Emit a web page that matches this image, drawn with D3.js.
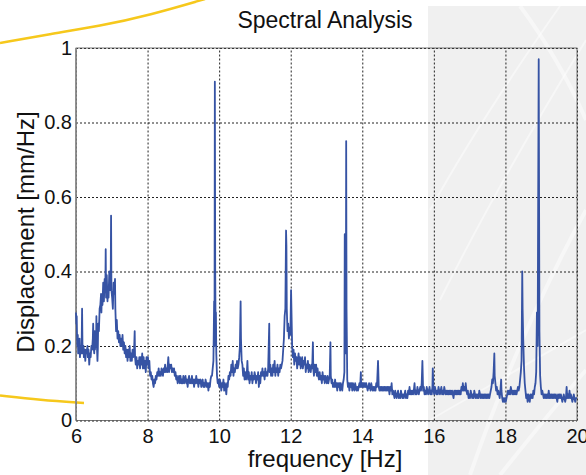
<!DOCTYPE html>
<html>
<head>
<meta charset="utf-8">
<script src="https://cdn.jsdelivr.net/npm/d3@7"></script>
<style>
  body { margin: 0; background: #fff; }
  svg { display: block; font-family: "Liberation Sans", Arial, sans-serif; }
</style>
</head>
<body>
<svg id="chart" width="586" height="475"></svg>
<script>
// tick values and labels
const xTicks = [6, 8, 10, 12, 14, 16, 18, 20];
const yTicks = [0, 0.2, 0.4, 0.6, 0.8, 1];
const titleText = "Spectral Analysis";
const xLabel = "frequency [Hz]";
const yLabel = "Displacement [mm/Hz]";

// spectrum: [frequency Hz, displacement mm/Hz]
const band6to8 = [
  [6.00,0.29],[6.01,0.26],[6.02,0.28],[6.03,0.22],[6.04,0.20],[6.05,0.23],[6.06,0.18],[6.07,0.21],
  [6.08,0.19],[6.10,0.22],[6.11,0.17],[6.13,0.20],[6.15,0.18],[6.16,0.22],[6.17,0.30],[6.18,0.21],
  [6.19,0.18],[6.21,0.20],[6.22,0.17],[6.24,0.19],[6.26,0.16],[6.28,0.19],[6.30,0.18],[6.32,0.20],
  [6.33,0.17],[6.35,0.19],[6.37,0.15],[6.39,0.18],[6.41,0.17],[6.43,0.20],[6.45,0.19],[6.47,0.22],
  [6.48,0.26],[6.49,0.20],[6.51,0.18],[6.52,0.24],[6.53,0.19],[6.55,0.22],[6.56,0.20],[6.57,0.28],
  [6.58,0.21],[6.60,0.16],[6.61,0.19],[6.62,0.26],[6.64,0.24],[6.66,0.30],[6.68,0.31],[6.70,0.34],
  [6.71,0.29],[6.72,0.33],[6.74,0.31],[6.76,0.37],[6.78,0.32],[6.80,0.38],[6.82,0.35],[6.83,0.46],
  [6.84,0.33],[6.86,0.39],[6.88,0.32],[6.90,0.36],[6.91,0.33],[6.93,0.40],[6.95,0.35],[6.97,0.38],
  [6.98,0.55],[6.99,0.35],[7.01,0.33],[7.03,0.30],[7.05,0.37],[7.07,0.34],[7.09,0.38],[7.10,0.30],
  [7.12,0.24],[7.14,0.27],[7.16,0.22],[7.18,0.24],[7.20,0.21],[7.22,0.23],[7.24,0.20],[7.26,0.22],
  [7.28,0.20],[7.30,0.23],[7.32,0.19],[7.34,0.21],[7.36,0.18],[7.38,0.20],[7.40,0.17],[7.42,0.19],
  [7.44,0.16],[7.46,0.19],[7.48,0.17],[7.50,0.20],[7.52,0.16],[7.54,0.18],[7.56,0.16],[7.58,0.19],
  [7.60,0.17],[7.62,0.18],[7.64,0.24],[7.65,0.17],[7.67,0.15],[7.69,0.17],[7.71,0.14],[7.73,0.16],
  [7.75,0.15],[7.77,0.17],[7.79,0.14],[7.81,0.17],[7.83,0.15],[7.85,0.18],[7.87,0.14],[7.89,0.17],
  [7.91,0.14],[7.93,0.16],[7.95,0.13],[7.97,0.17],[7.99,0.15]
];
const band8to10 = [
  [8.01,0.17],[8.03,0.14],[8.05,0.16],[8.07,0.12],[8.09,0.13],[8.11,0.11],[8.13,0.12],[8.15,0.10],
  [8.17,0.09],[8.19,0.11],[8.21,0.10],[8.23,0.12],[8.25,0.11],[8.27,0.13],[8.29,0.12],[8.31,0.14],
  [8.33,0.12],[8.35,0.13],[8.37,0.12],[8.39,0.14],[8.41,0.13],[8.43,0.12],[8.45,0.14],[8.47,0.13],
  [8.49,0.15],[8.51,0.13],[8.53,0.14],[8.55,0.13],[8.58,0.17],[8.60,0.13],[8.62,0.15],[8.64,0.14],
  [8.66,0.15],[8.68,0.13],[8.70,0.14],[8.72,0.13],[8.74,0.14],[8.76,0.12],[8.78,0.13],[8.80,0.11],
  [8.82,0.12],[8.84,0.10],[8.86,0.11],[8.88,0.12],[8.90,0.10],[8.92,0.12],[8.94,0.10],[8.96,0.11],
  [8.98,0.10],[9.00,0.12],[9.02,0.10],[9.04,0.11],[9.06,0.12],[9.08,0.10],[9.10,0.11],[9.12,0.09],
  [9.14,0.11],[9.16,0.12],[9.18,0.10],[9.20,0.11],[9.22,0.10],[9.24,0.12],[9.26,0.10],[9.28,0.11],
  [9.30,0.09],[9.32,0.11],[9.34,0.10],[9.36,0.12],[9.38,0.10],[9.40,0.11],[9.42,0.09],[9.44,0.11],
  [9.46,0.10],[9.48,0.11],[9.50,0.09],[9.52,0.10],[9.54,0.11],[9.56,0.09],[9.58,0.10],[9.60,0.09],
  [9.62,0.11],[9.64,0.10],[9.66,0.09],[9.68,0.10],[9.70,0.08],[9.72,0.10],[9.74,0.09],[9.76,0.11],
  [9.78,0.12],[9.80,0.12],[9.82,0.14],[9.84,0.16],[9.86,0.32],[9.87,0.20],[9.88,0.91],[9.89,0.40],
  [9.90,0.26],[9.91,0.29],[9.92,0.18],[9.94,0.12],[9.96,0.10],[9.98,0.11]
];
const band10to12 = [
  [10.00,0.09],[10.02,0.11],[10.04,0.10],[10.06,0.08],[10.08,0.10],[10.10,0.09],[10.12,0.11],[10.14,0.08],
  [10.16,0.10],[10.18,0.09],[10.20,0.07],[10.22,0.10],[10.24,0.09],[10.26,0.12],[10.28,0.11],[10.30,0.13],
  [10.32,0.12],[10.34,0.15],[10.36,0.13],[10.38,0.16],[10.40,0.12],[10.42,0.14],[10.44,0.13],[10.46,0.15],
  [10.48,0.14],[10.50,0.16],[10.52,0.14],[10.54,0.15],[10.56,0.17],[10.58,0.20],[10.60,0.32],[10.61,0.22],
  [10.63,0.16],[10.65,0.15],[10.67,0.12],[10.69,0.14],[10.71,0.11],[10.73,0.13],[10.75,0.11],[10.77,0.12],
  [10.79,0.16],[10.81,0.11],[10.83,0.13],[10.85,0.10],[10.87,0.12],[10.89,0.11],[10.91,0.13],[10.93,0.10],
  [10.95,0.12],[10.97,0.11],[10.99,0.13],[11.01,0.12],[11.03,0.10],[11.05,0.12],[11.07,0.11],[11.09,0.13],
  [11.11,0.09],[11.13,0.12],[11.15,0.10],[11.17,0.13],[11.19,0.12],[11.21,0.14],[11.23,0.12],[11.25,0.13],
  [11.27,0.11],[11.29,0.14],[11.31,0.12],[11.33,0.13],[11.35,0.12],[11.37,0.14],[11.40,0.26],[11.41,0.13],
  [11.43,0.15],[11.45,0.12],[11.47,0.14],[11.49,0.12],[11.51,0.15],[11.53,0.13],[11.55,0.16],[11.57,0.12],
  [11.59,0.14],[11.61,0.13],[11.63,0.15],[11.65,0.12],[11.67,0.14],[11.69,0.13],[11.71,0.15],[11.73,0.14],
  [11.75,0.15],[11.77,0.16],[11.79,0.19],[11.81,0.22],[11.83,0.28],[11.85,0.30],[11.87,0.51],[11.88,0.47],
  [11.89,0.30],[11.91,0.24],[11.93,0.26],[11.95,0.22],[11.97,0.25],[11.99,0.23]
];
const band12to14 = [
  [12.01,0.35],[12.02,0.30],[12.04,0.20],[12.06,0.17],[12.08,0.19],[12.10,0.15],[12.12,0.18],[12.14,0.16],
  [12.16,0.17],[12.18,0.14],[12.20,0.16],[12.22,0.18],[12.24,0.15],[12.26,0.17],[12.28,0.14],[12.30,0.16],
  [12.32,0.17],[12.34,0.14],[12.36,0.16],[12.38,0.15],[12.40,0.17],[12.42,0.13],[12.44,0.15],[12.46,0.14],
  [12.48,0.16],[12.50,0.13],[12.52,0.15],[12.54,0.14],[12.56,0.13],[12.58,0.15],[12.60,0.14],[12.62,0.21],
  [12.63,0.14],[12.65,0.12],[12.67,0.15],[12.69,0.13],[12.71,0.15],[12.73,0.12],[12.75,0.14],[12.77,0.12],
  [12.79,0.11],[12.81,0.13],[12.83,0.11],[12.85,0.12],[12.87,0.10],[12.89,0.13],[12.91,0.11],[12.93,0.12],
  [12.95,0.10],[12.97,0.12],[12.99,0.11],[13.01,0.10],[13.03,0.12],[13.05,0.10],[13.07,0.11],[13.09,0.12],
  [13.11,0.21],[13.12,0.12],[13.14,0.10],[13.16,0.11],[13.18,0.09],[13.20,0.10],[13.22,0.09],[13.24,0.11],
  [13.26,0.09],[13.28,0.10],[13.30,0.08],[13.32,0.10],[13.34,0.09],[13.36,0.10],[13.38,0.08],[13.40,0.10],
  [13.42,0.09],[13.44,0.08],[13.46,0.10],[13.48,0.11],[13.50,0.13],[13.51,0.50],[13.52,0.20],[13.54,0.18],
  [13.55,0.75],[13.56,0.30],[13.58,0.11],[13.60,0.09],[13.62,0.10],[13.64,0.08],[13.66,0.10],[13.68,0.09],
  [13.70,0.10],[13.72,0.08],[13.74,0.10],[13.76,0.09],[13.78,0.08],[13.80,0.10],[13.82,0.09],[13.84,0.08],
  [13.86,0.09],[13.88,0.08],[13.90,0.09],[13.92,0.10],[13.94,0.09],[13.96,0.13],[13.97,0.09],[13.99,0.10]
];
const band14to17 = [
  [14.01,0.09],[14.03,0.10],[14.05,0.09],[14.07,0.10],[14.09,0.09],[14.11,0.10],[14.13,0.09],[14.15,0.08],
  [14.17,0.09],[14.19,0.10],[14.21,0.09],[14.23,0.08],[14.25,0.10],[14.27,0.09],[14.29,0.08],[14.31,0.09],
  [14.33,0.08],[14.35,0.09],[14.37,0.08],[14.39,0.10],[14.41,0.09],[14.44,0.16],[14.46,0.09],[14.48,0.08],
  [14.50,0.09],[14.52,0.08],[14.54,0.09],[14.56,0.08],[14.58,0.09],[14.60,0.08],[14.62,0.09],[14.64,0.08],
  [14.66,0.09],[14.68,0.08],[14.70,0.09],[14.72,0.08],[14.74,0.09],[14.76,0.07],[14.78,0.09],[14.80,0.08],
  [14.82,0.10],[14.84,0.07],[14.86,0.08],[14.88,0.07],[14.90,0.06],[14.92,0.08],[14.94,0.07],[14.96,0.06],
  [14.98,0.07],[15.00,0.08],[15.02,0.06],[15.04,0.07],[15.06,0.06],[15.08,0.08],[15.10,0.07],[15.12,0.06],
  [15.14,0.07],[15.16,0.06],[15.18,0.07],[15.20,0.08],[15.22,0.06],[15.24,0.07],[15.26,0.06],[15.28,0.08],
  [15.30,0.07],[15.32,0.09],[15.34,0.07],[15.36,0.08],[15.38,0.07],[15.40,0.08],[15.42,0.07],[15.44,0.08],
  [15.46,0.10],[15.48,0.07],[15.50,0.08],[15.52,0.07],[15.54,0.09],[15.56,0.08],[15.58,0.07],[15.60,0.08],
  [15.62,0.09],[15.64,0.08],[15.66,0.10],[15.68,0.16],[15.70,0.08],[15.72,0.09],[15.74,0.07],[15.76,0.08],
  [15.78,0.07],[15.80,0.09],[15.82,0.08],[15.84,0.07],[15.86,0.08],[15.88,0.09],[15.90,0.07],[15.92,0.08],
  [15.94,0.07],[15.96,0.09],[15.97,0.14],[15.99,0.08],[16.01,0.07],[16.03,0.09],[16.05,0.08],[16.07,0.07],
  [16.09,0.08],[16.11,0.07],[16.13,0.09],[16.15,0.08],[16.17,0.07],[16.19,0.08],[16.21,0.09],[16.23,0.07],
  [16.25,0.08],[16.27,0.07],[16.29,0.09],[16.31,0.08],[16.33,0.07],[16.35,0.08],[16.37,0.07],[16.39,0.08],
  [16.41,0.07],[16.43,0.08],[16.45,0.07],[16.47,0.08],[16.49,0.07],[16.51,0.08],[16.53,0.07],[16.55,0.06],
  [16.57,0.08],[16.59,0.07],[16.61,0.08],[16.63,0.07],[16.65,0.08],[16.67,0.07],[16.69,0.08],[16.71,0.07],
  [16.73,0.08],[16.75,0.07],[16.77,0.09],[16.79,0.08],[16.81,0.10],[16.83,0.08],[16.85,0.09],[16.87,0.08],
  [16.89,0.10],[16.91,0.08],[16.93,0.07],[16.95,0.08],[16.97,0.06],[16.99,0.07]
];
const band17to20 = [
  [17.01,0.06],[17.03,0.08],[17.05,0.07],[17.07,0.06],[17.09,0.07],[17.11,0.06],[17.13,0.08],[17.15,0.07],
  [17.17,0.06],[17.19,0.07],[17.21,0.06],[17.23,0.07],[17.25,0.06],[17.27,0.08],[17.29,0.07],[17.31,0.06],
  [17.33,0.07],[17.35,0.06],[17.37,0.07],[17.39,0.06],[17.41,0.07],[17.43,0.06],[17.45,0.07],[17.47,0.06],
  [17.49,0.07],[17.51,0.06],[17.53,0.07],[17.55,0.06],[17.57,0.07],[17.59,0.08],[17.61,0.09],[17.63,0.11],
  [17.65,0.10],[17.67,0.13],[17.69,0.18],[17.70,0.12],[17.72,0.10],[17.74,0.08],[17.76,0.09],[17.78,0.07],
  [17.80,0.08],[17.82,0.07],[17.84,0.06],[17.86,0.08],[17.88,0.11],[17.89,0.08],[17.91,0.06],[17.93,0.05],
  [17.95,0.06],[17.97,0.05],[17.99,0.06],[18.01,0.05],[18.03,0.06],[18.05,0.07],[18.07,0.08],[18.09,0.07],
  [18.11,0.08],[18.13,0.07],[18.15,0.09],[18.17,0.08],[18.19,0.07],[18.21,0.08],[18.23,0.07],[18.25,0.08],
  [18.27,0.07],[18.29,0.08],[18.31,0.07],[18.33,0.08],[18.35,0.09],[18.37,0.08],[18.39,0.09],[18.41,0.11],
  [18.43,0.13],[18.45,0.16],[18.47,0.40],[18.48,0.30],[18.50,0.21],[18.52,0.14],[18.54,0.10],[18.56,0.08],
  [18.58,0.06],[18.60,0.07],[18.62,0.05],[18.64,0.07],[18.66,0.06],[18.68,0.05],[18.70,0.07],[18.72,0.06],
  [18.74,0.07],[18.76,0.06],[18.78,0.08],[18.80,0.07],[18.82,0.09],[18.84,0.10],[18.86,0.13],[18.88,0.29],
  [18.90,0.20],[18.93,0.97],[18.95,0.24],[18.97,0.12],[18.99,0.09],[19.01,0.07],[19.03,0.08],[19.05,0.07],
  [19.07,0.06],[19.09,0.07],[19.11,0.06],[19.13,0.07],[19.15,0.06],[19.17,0.07],[19.19,0.06],[19.21,0.08],
  [19.23,0.06],[19.25,0.07],[19.27,0.06],[19.29,0.07],[19.31,0.06],[19.33,0.07],[19.35,0.06],[19.37,0.07],
  [19.39,0.06],[19.41,0.07],[19.43,0.06],[19.45,0.05],[19.47,0.07],[19.49,0.06],[19.51,0.07],[19.53,0.06],
  [19.55,0.07],[19.57,0.06],[19.59,0.05],[19.61,0.06],[19.63,0.07],[19.65,0.06],[19.67,0.05],[19.69,0.06],
  [19.71,0.09],[19.73,0.06],[19.75,0.07],[19.77,0.06],[19.79,0.08],[19.81,0.06],[19.83,0.07],[19.85,0.06],
  [19.87,0.05],[19.89,0.06],[19.91,0.07],[19.93,0.06],[19.95,0.05],[19.97,0.06],[20.00,0.06]
];
const spectrum = band6to8.concat(band8to10, band10to12, band12to14, band14to17, band17to20);

const svg = d3.select("#chart");
const W = 586, H = 475;
const plotLeft = 76, plotRight = 577, plotTop = 48, plotBottom = 420.5;

// slide background: grey panel on the right with soft light streaks
const deco = svg.append("g");
deco.append("rect")
    .attr("x", 428).attr("y", 6)
    .attr("width", W - 428).attr("height", H - 6)
    .attr("fill", "#f0f0f0");
const streaks = [
  "M440,300 Q500,180 586,40", "M470,475 Q520,330 586,210", "M430,210 Q480,120 560,6",
  "M500,475 Q560,400 586,370", "M430,420 Q500,380 586,330", "M520,6 Q560,60 586,120"
];
deco.selectAll("path.streak")
  .data(streaks)
  .enter().append("path")
    .attr("class", "streak")
    .attr("d", d => d)
    .attr("fill", "none")
    .attr("stroke", "#ffffff")
    .attr("stroke-opacity", 0.45)
    .attr("stroke-width", (d, i) => i % 2 ? 4 : 2);

// yellow swooshes
const swoosh = d3.line().curve(d3.curveBasis);
deco.append("path")
    .attr("d", swoosh([[0, 43], [50, 34], [100, 26], [150, 15], [205, -1]]))
    .attr("fill", "none").attr("stroke", "#f6c81c").attr("stroke-width", 2.5);
deco.append("path")
    .attr("d", swoosh([[0, 395.5], [40, 400], [84, 403]]))
    .attr("fill", "none").attr("stroke", "#f6c81c").attr("stroke-width", 2.5);

const x = d3.scaleLinear().domain([6, 20]).range([plotLeft, plotRight]);
const y = d3.scaleLinear().domain([0, 1]).range([plotBottom, plotTop]);

// grid
svg.append("g")
    .attr("transform", `translate(0,${plotBottom})`)
    .call(d3.axisBottom(x).tickValues(xTicks).tickSize(-(plotBottom - plotTop)).tickFormat(""))
    .call(g => g.select(".domain").remove())
    .call(g => g.selectAll("line").attr("stroke", "#222").attr("stroke-dasharray", "2,2"));
svg.append("g")
    .attr("transform", `translate(${plotLeft},0)`)
    .call(d3.axisLeft(y).tickValues(yTicks).tickSize(-(plotRight - plotLeft)).tickFormat(""))
    .call(g => g.select(".domain").remove())
    .call(g => g.selectAll("line").attr("stroke", "#222").attr("stroke-dasharray", "2,2"));

// axes box
svg.append("rect")
    .attr("x", plotLeft).attr("y", plotTop)
    .attr("width", plotRight - plotLeft).attr("height", plotBottom - plotTop)
    .attr("fill", "none").attr("stroke", "#555").attr("stroke-width", 0.8);
svg.append("line")
    .attr("x1", plotLeft).attr("x2", plotLeft).attr("y1", plotTop).attr("y2", plotBottom)
    .attr("stroke", "#888").attr("stroke-width", 1.6);

// spectrum line
svg.append("path")
    .datum(spectrum)
    .attr("d", d3.line().x(d => x(d[0])).y(d => y(d[1])))
    .attr("fill", "none")
    .attr("stroke", "#3653a4")
    .attr("stroke-width", 1.8)
    .attr("stroke-linejoin", "round");

// tick labels
svg.append("g")
    .attr("transform", `translate(0,${plotBottom})`)
    .call(d3.axisBottom(x).tickValues(xTicks).tickSize(0).tickPadding(8).tickFormat(d3.format("d")))
    .call(g => g.select(".domain").remove())
    .call(g => g.selectAll("text").attr("font-size", 20).attr("fill", "#111"))
    .attr("font-family", null);
svg.append("g")
    .attr("transform", `translate(${plotLeft},0)`)
    .call(d3.axisLeft(y).tickValues(yTicks).tickSize(0).tickPadding(4).tickFormat(d => String(d)))
    .call(g => g.select(".domain").remove())
    .call(g => g.selectAll("text").attr("font-size", 20).attr("fill", "#111"))
    .attr("font-family", null);

// titles
svg.append("text")
    .attr("x", 325).attr("y", 28)
    .attr("text-anchor", "middle")
    .attr("font-size", 23).attr("fill", "#111")
    .text(titleText);
svg.append("text")
    .attr("x", 325).attr("y", 467)
    .attr("text-anchor", "middle")
    .attr("font-size", 24).attr("fill", "#111")
    .text(xLabel);
svg.append("text")
    .attr("transform", "translate(34,232) rotate(-90)")
    .attr("text-anchor", "middle")
    .attr("font-size", 24).attr("fill", "#111")
    .text(yLabel);
</script>
</body>
</html>
